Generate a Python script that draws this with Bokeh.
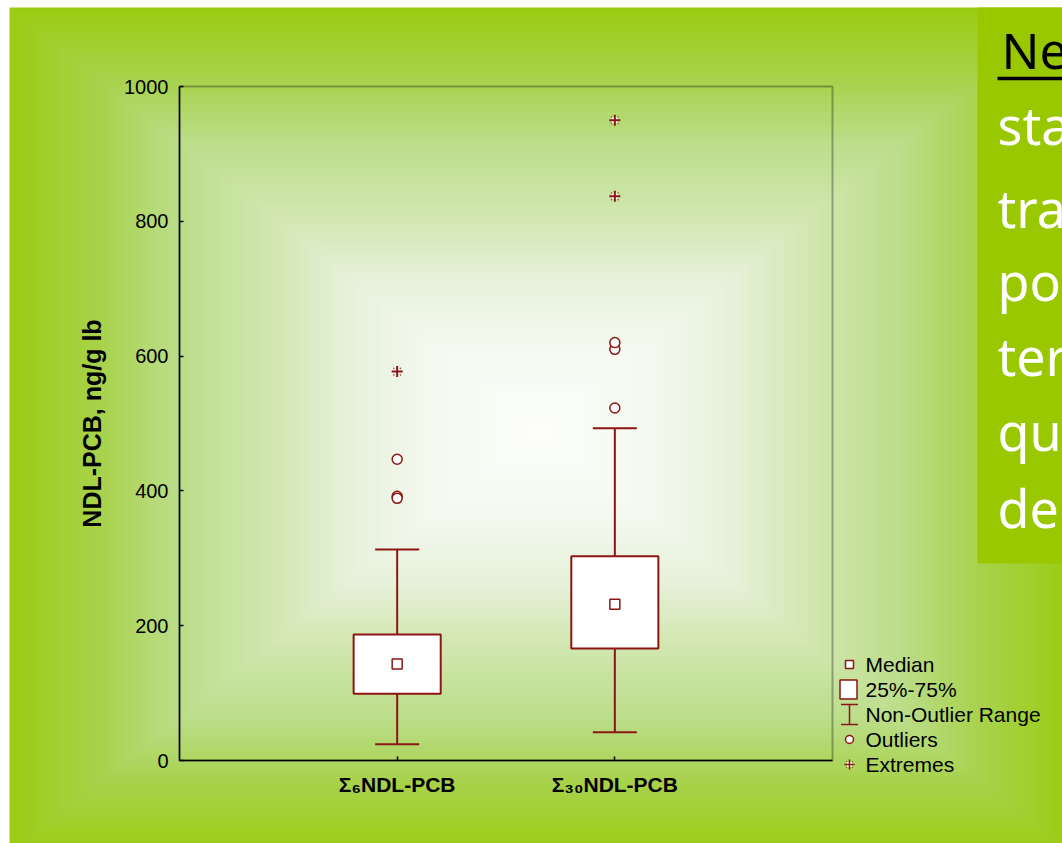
import numpy as np
from bokeh.plotting import figure
from bokeh.models import Range1d, FixedTicker, BoxAnnotation
from bokeh.core.properties import value
from bokeh.embed import file_html
from bokeh.resources import INLINE

# ---------------- data ----------------
categories = ["Σ₆NDL-PCB", "Σ₃₀NDL-PCB"]
medians = [143, 232]
q1 = [99, 166]
q3 = [187, 303]
whisker_low = [24, 42]
whisker_high = [313, 493]
outlier_group = [0, 0, 0, 1, 1, 1]
outlier_values = [447, 392, 389, 523, 610, 620]
extreme_group = [0, 1, 1]
extreme_values = [577, 837, 950]
y_ticks = [0, 200, 400, 600, 800, 1000]
y_label = "NDL-PCB, ng/g lb"
legend_labels = ["Median", "25%-75%", "Non-Outlier Range", "Outliers", "Extremes"]
note_title = "Ne"
note_lines = ["sta", "tra", "pop", "ter", "qu", "del"]

# ---------------- layout / style (page pixels, top-down) ----------------
W, H = 1062, 843
SL, ST = 9, 7                                 # slide origin
FL, FR, FT, FB = 179, 832, 86, 760            # plot box edges
X0, X1 = 0, len(categories) + 1
Y0, Y1 = 0, 1000
sx = (FR - FL) / (X1 - X0)
sy = (FB - FT) / (Y1 - Y0)

DARK = "#8C1515"
BROWN = "#8A5A2E"
FONT = "Liberation Sans"

positions = list(range(1, len(categories) + 1))

p = figure(
    width=W, height=H,
    x_range=Range1d(X0 - FL / sx, X1 + (W - FR) / sx),
    y_range=Range1d(Y0 - (H - FB) / sy, Y1 + FT / sy),
    output_backend="svg", toolbar_location=None,
    min_border=0, min_border_left=0, min_border_right=0,
    min_border_top=0, min_border_bottom=0,
    outline_line_color=None,
    background_fill_color="white", border_fill_color="white",
)
p.extra_x_ranges = {"px": Range1d(0, W)}
p.extra_y_ranges = {"py": Range1d(0, H)}
kw = dict(x_range_name="px", y_range_name="py")


def top(y):
    return H - y


# ---------------- slide background (rectangular gradient) ----------------
BW, BH = W - SL, H - ST
nx, ny = 264, 209
gx = SL + (np.arange(nx) + 0.5) * BW / nx
gy = ST + (np.arange(ny) + 0.5) * BH / ny
cx, cy = 540, 430
hx, hy = cx - SL, cy - ST
t = np.maximum(np.abs(gx[None, :] - cx) / hx, np.abs(gy[:, None] - cy) / hy)
t = np.clip(t, 0, 1)
stop_t = [0.0, 0.2, 0.36, 0.49, 0.68, 0.83, 1.0]
stop_rgb = [(253, 254, 251), (245, 249, 240), (230, 241, 218), (212, 232, 180),
            (188, 221, 138), (168, 210, 75), (155, 204, 18)]
img = np.empty((ny, nx), dtype=np.uint32)
view = img.view(dtype=np.uint8).reshape((ny, nx, 4))
for k in range(3):
    view[..., k] = np.round(np.interp(t, stop_t, [c[k] for c in stop_rgb])).astype(np.uint8)
view[..., 3] = 255
img = img[::-1].copy()
p.image_rgba(image=[img], x=SL, y=0, dw=BW, dh=BH, **kw)

# ---------------- note box at right ----------------
NOTE_L, NOTE_T, NOTE_B, NOTE_TX = 977, ST, 563, 997
BASE_SHIFT = 23
p.quad(left=NOTE_L, right=W + 20, top=top(NOTE_T), bottom=top(NOTE_B),
       fill_color="#9AC800", line_color=None, **kw)
p.text(x=[NOTE_TX + 4], y=[top(72 - BASE_SHIFT)], text=[note_title],
       text_font=value("Noto Sans"), text_font_size="50px", text_color="black",
       text_baseline="alphabetic", **kw)
p.segment(x0=[NOTE_TX], y0=[top(78)], x1=[W + 20], y1=[top(78)], line_color="black",
          line_width=3.5, **kw)
note_base = [147, 230, 303, 378, 453, 530]
p.text(x=[NOTE_TX] * len(note_lines), y=[top(b - BASE_SHIFT) for b in note_base],
       text=note_lines, text_font=value("Noto Sans"), text_font_size="52px",
       text_color="white", text_baseline="alphabetic", **kw)

# ---------------- grid ----------------
p.xgrid.ticker = FixedTicker(ticks=positions)
p.ygrid.ticker = FixedTicker(ticks=y_ticks[1:-1])
for g, cb in ((p.xgrid[0], (Y0, Y1)), (p.ygrid[0], (X0, X1))):
    g.cross_bounds = cb
    g.grid_line_color = "#cfcfcf"
    g.grid_line_dash = "2 2"
    g.grid_line_width = 1

# ---------------- box plot ----------------
p.segment(x0=positions, y0=whisker_low, x1=positions, y1=whisker_high,
          line_color=DARK, line_width=2)
p.scatter(positions, whisker_low, marker="dash", size=44, line_color=DARK, line_width=2)
p.scatter(positions, whisker_high, marker="dash", size=44, line_color=DARK, line_width=2)
p.vbar(x=positions, width=0.4, bottom=q1, top=q3, fill_color="white",
       line_color=DARK, line_width=2)
p.scatter(positions, medians, marker="square", size=10, fill_color="white",
          line_color=DARK, line_width=1.5)
ox = [positions[g] for g in outlier_group]
p.scatter(ox, outlier_values, marker="circle", size=10, fill_color="white",
          line_color=DARK, line_width=1.5)
ex = [positions[g] for g in extreme_group]
p.scatter(ex, extreme_values, marker="x", size=11, line_color=BROWN, line_width=1.2)
p.scatter(ex, extreme_values, marker="square", size=6, fill_color="white", line_color=None)
p.scatter(ex, extreme_values, marker="cross", size=11, line_color=DARK, line_width=2)

# ---------------- frame & axes ----------------
p.add_layout(BoxAnnotation(left=X0, right=X1, bottom=Y0, top=Y1, fill_color=None,
                           line_color="black", line_width=2))

xa = p.xaxis[0]
xa.fixed_location = Y0
xa.bounds = (X0, X1)
xa.ticker = FixedTicker(ticks=positions)
xa.major_label_overrides = {pos: lab for pos, lab in zip(positions, categories)}
xa.major_label_text_font = FONT
xa.major_label_text_font_style = "bold"
xa.major_label_text_font_size = "21px"
xa.major_label_text_color = "black"
xa.major_label_standoff = 12
ya = p.yaxis[0]
ya.fixed_location = X0
ya.bounds = (Y0, Y1)
ya.ticker = FixedTicker(ticks=y_ticks)
ya.major_label_text_font = FONT
ya.major_label_text_font_size = "20px"
ya.major_label_text_color = "black"
ya.major_label_standoff = 11
ya.axis_label = y_label
ya.axis_label_text_font = FONT
ya.axis_label_text_font_style = "bold"
ya.axis_label_text_font_size = "25px"
ya.axis_label_text_color = "black"
ya.axis_label_standoff = 15
for a in (xa, ya):
    a.axis_line_color = "black"
    a.axis_line_width = 1.5
    a.major_tick_in = 4
    a.major_tick_out = 0
    a.major_tick_line_color = "black"
    a.major_tick_line_width = 1.5
    a.minor_tick_line_color = None

# ---------------- legend ----------------
LSX, LTX, LY0, LDY = 849, 865, 664, 25
ly = [top(LY0 + i * LDY) for i in range(len(legend_labels))]
p.scatter([LSX], [ly[0]], marker="square", size=8, fill_color="white",
          line_color=DARK, line_width=1.5, **kw)
p.rect([LSX - 1], [ly[1]], width=17, height=19, fill_color="white", line_color=DARK,
       line_width=1.5, **kw)
p.segment(x0=[LSX], y0=[ly[2] - 10], x1=[LSX], y1=[ly[2] + 10], line_color=DARK,
          line_width=1.5, **kw)
p.scatter([LSX, LSX], [ly[2] - 10, ly[2] + 10], marker="dash", size=17,
          line_color=DARK, line_width=1.5, **kw)
p.scatter([LSX], [ly[3]], marker="circle", size=8, fill_color="white",
          line_color=DARK, line_width=1.5, **kw)
p.scatter([LSX], [ly[4]], marker="x", size=10, line_color=BROWN, line_width=1, **kw)
p.scatter([LSX], [ly[4]], marker="square", size=5, fill_color="white", line_color=None, **kw)
p.scatter([LSX], [ly[4]], marker="cross", size=10, line_color=DARK, line_width=1.5, **kw)
p.text(x=[LTX] * len(legend_labels), y=ly, text=legend_labels, text_font=value(FONT),
       text_font_size="21px", text_color="black", text_baseline="middle", **kw)

open("out.html", "w").write(file_html(p, INLINE))
